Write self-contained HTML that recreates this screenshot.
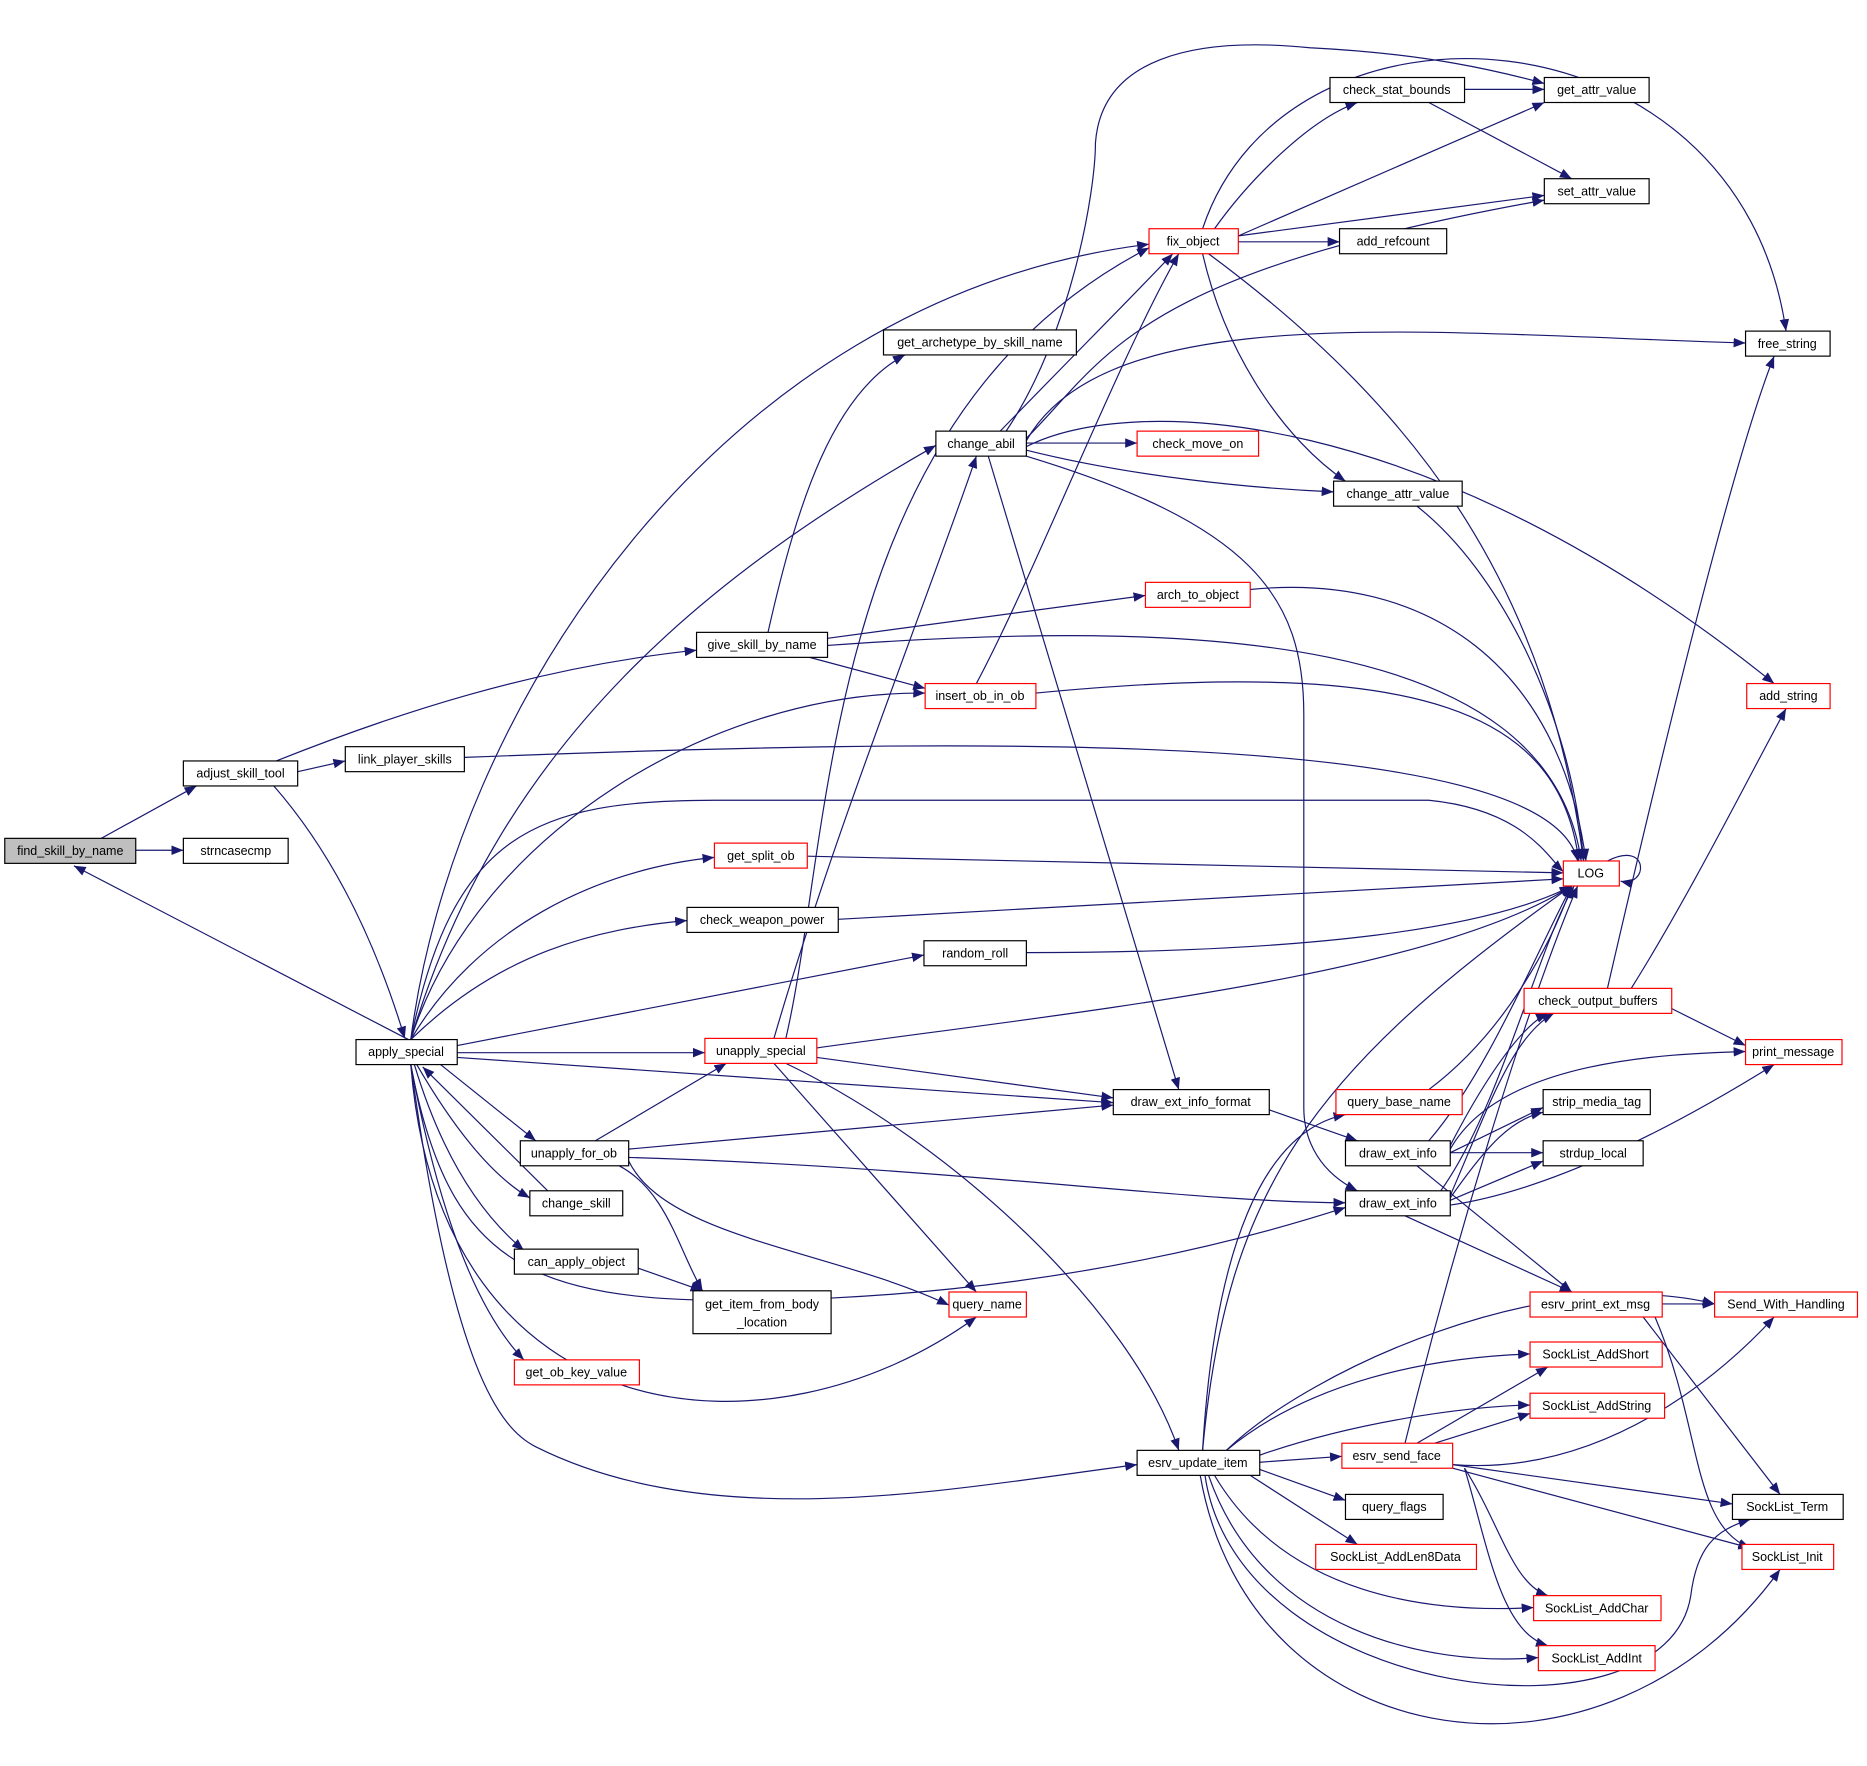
<!DOCTYPE html>
<html><head><meta charset="utf-8"><style>html,body{margin:0;padding:0;background:#fff}svg{display:block}</style></head>
<body>
<svg width="1867" height="1766" viewBox="0 0 1568 1483" xmlns="http://www.w3.org/2000/svg" font-family="Liberation Sans, sans-serif" font-size="10.5">
<defs><marker id="a" markerWidth="10" markerHeight="8" refX="10" refY="4" orient="auto" markerUnits="userSpaceOnUse"><path d="M0,0 L10,4 L0,8 z" fill="#191970"/></marker></defs>
<g fill="none" stroke="#191970" stroke-width="1" marker-end="url(#a)">
<path d="M114,714 L154,714"/>
<path d="M85,704 L165,660"/>
<path d="M343,873 L62,727"/>
<path d="M232,639 C330,600 450,560 585,546"/>
<path d="M250,648 L290,639"/>
<path d="M230,660 Q300,740 340,872"/>
<path d="M345,873 C380,600 600,250 965,205"/>
<path d="M345,873 C420,620 600,480 786,374"/>
<path d="M345,873 C400,700 600,580 777,582"/>
<path d="M345,873 C380,700 450,672 600,672 L1200,672 C1280,680 1300,720 1313,732"/>
<path d="M345,873 C400,780 500,730 600,720"/>
<path d="M345,873 C420,800 500,780 577,773"/>
<path d="M384,878 L776,802"/>
<path d="M384,884 L592,884"/>
<path d="M384,888 L935,926"/>
<path d="M370,894 L450,958"/>
<path d="M350,894 Q400,980 445,1006"/>
<path d="M348,894 Q380,1000 440,1050"/>
<path d="M345,894 Q380,1080 440,1142"/>
<path d="M345,894 C370,1210 650,1230 820,1106"/>
<path d="M345,894 C380,1080 460,1100 700,1090 C900,1080 1050,1040 1130,1014"/>
<path d="M345,894 C380,1150 420,1200 450,1215 C600,1290 800,1250 955,1230"/>
<path d="M460,1000 L355,896"/>
<path d="M645,531 C670,420 700,330 760,298"/>
<path d="M695,536 L962,500"/>
<path d="M695,542 C1000,520 1300,530 1328,723"/>
<path d="M680,552 L777,578"/>
<path d="M390,636 C800,620 1300,610 1325,723"/>
<path d="M820,574 C870,480 940,300 990,213"/>
<path d="M870,582 C1200,550 1310,600 1326,723"/>
<path d="M840,362 C900,300 950,250 985,213"/>
<path d="M845,362 C900,280 920,160 920,120 C925,50 1000,30 1100,40 C1200,45 1260,60 1297,70"/>
<path d="M862,368 C930,300 950,230 1297,168"/>
<path d="M862,370 C930,250 1200,280 1466,288"/>
<path d="M862,372 L955,372"/>
<path d="M862,378 C950,400 1050,410 1120,413"/>
<path d="M862,375 C950,330 1200,340 1490,574"/>
<path d="M830,383 L990,915"/>
<path d="M862,383 C1050,440 1095,500 1095,600 L1095,930 C1095,960 1110,985 1140,1000"/>
<path d="M1230,75 L1297,75"/>
<path d="M1200,86 L1320,150"/>
<path d="M1020,192 C1050,150 1100,100 1140,86"/>
<path d="M1040,198 L1297,86"/>
<path d="M1040,198 L1297,164"/>
<path d="M1040,203 L1125,203"/>
<path d="M1015,213 C1200,350 1300,500 1330,723"/>
<path d="M1010,213 C1030,300 1080,370 1130,404"/>
<path d="M1010,192 C1080,-20 1460,0 1500,278"/>
<path d="M660,872 C700,700 690,350 965,208"/>
<path d="M650,872 C700,700 780,500 820,383"/>
<path d="M1190,425 C1260,480 1320,600 1330,723"/>
<path d="M1050,495 C1200,480 1310,560 1332,723"/>
<path d="M1350,723 C1385,705 1385,745 1361,740"/>
<path d="M678,719 L1313,733"/>
<path d="M704,772 L1313,738"/>
<path d="M862,800 C1100,800 1250,780 1320,744"/>
<path d="M686,880 C900,850 1200,820 1320,744"/>
<path d="M686,888 L935,922"/>
<path d="M650,893 L820,1085"/>
<path d="M660,893 C800,960 950,1100 990,1218"/>
<path d="M500,958 L610,893"/>
<path d="M528,965 L935,928"/>
<path d="M528,972 C800,980 1000,1010 1130,1010"/>
<path d="M520,979 C560,1000 570,1050 590,1084"/>
<path d="M528,975 C560,1040 700,1050 797,1096"/>
<path d="M536,1065 L590,1084"/>
<path d="M1066,932 L1140,958"/>
<path d="M1200,958 C1250,900 1290,800 1320,744"/>
<path d="M1218,962 C1250,900 1280,860 1300,851"/>
<path d="M1218,965 C1260,890 1400,885 1466,883"/>
<path d="M1218,968 L1296,930"/>
<path d="M1218,968 L1296,968"/>
<path d="M1190,979 L1320,1085"/>
<path d="M1210,1000 C1260,930 1290,800 1322,744"/>
<path d="M1218,1004 C1250,930 1270,870 1305,851"/>
<path d="M1218,1006 C1250,960 1270,940 1296,934"/>
<path d="M1218,1008 L1296,975"/>
<path d="M1218,1012 C1300,1000 1400,950 1490,894"/>
<path d="M1180,1021 L1320,1085"/>
<path d="M1350,830 C1380,700 1450,400 1490,299"/>
<path d="M1370,830 C1420,750 1470,650 1500,595"/>
<path d="M1404,847 L1466,878"/>
<path d="M1200,915 C1260,870 1300,800 1320,744"/>
<path d="M1010,1218 C1020,1050 1060,950 1130,936"/>
<path d="M1010,1218 C1030,1000 1100,900 1320,744"/>
<path d="M1030,1218 C1100,1150 1300,1060 1440,1095"/>
<path d="M1030,1218 C1100,1160 1200,1140 1285,1137"/>
<path d="M1058,1222 C1150,1190 1250,1180 1285,1180"/>
<path d="M1058,1228 L1127,1223"/>
<path d="M1058,1234 L1130,1260"/>
<path d="M1050,1239 L1140,1297"/>
<path d="M1020,1239 C1080,1340 1200,1355 1288,1350"/>
<path d="M1015,1239 C1060,1370 1200,1400 1292,1392"/>
<path d="M1012,1239 C1040,1430 1400,1470 1420,1340 C1425,1300 1440,1285 1470,1276"/>
<path d="M1008,1239 C1050,1480 1350,1520 1495,1318"/>
<path d="M1180,1212 C1220,1050 1280,850 1325,744"/>
<path d="M1190,1212 L1300,1148"/>
<path d="M1205,1212 L1285,1187"/>
<path d="M1220,1230 C1350,1240 1450,1150 1490,1106"/>
<path d="M1220,1230 L1455,1263"/>
<path d="M1220,1233 L1470,1300"/>
<path d="M1230,1233 C1260,1280 1270,1330 1300,1340"/>
<path d="M1230,1233 C1250,1300 1260,1370 1300,1382"/>
<path d="M1396,1095 L1440,1095"/>
<path d="M1380,1106 L1495,1255"/>
<path d="M1390,1106 C1430,1200 1420,1280 1470,1300"/>
</g>
<g stroke-width="1" text-anchor="middle">
<g fill="#fff" stroke="#000">
<rect x="4" y="704" width="110" height="21" fill="#bfbfbf"/>
<rect x="154" y="704" width="88" height="21"/>
<rect x="154" y="639" width="96" height="21"/>
<rect x="290" y="627" width="100" height="21"/>
<rect x="299" y="873" width="85" height="21"/>
<rect x="585" y="531" width="110" height="21"/>
<rect x="742" y="277" width="162" height="21"/>
<rect x="786" y="362" width="76" height="21"/>
<rect x="1117" y="65" width="113" height="21"/>
<rect x="1297" y="65" width="88" height="21"/>
<rect x="1297" y="150" width="88" height="21"/>
<rect x="1125" y="192" width="90" height="21"/>
<rect x="1466" y="278" width="71" height="21"/>
<rect x="1120" y="404" width="108" height="21"/>
<rect x="577" y="762" width="127" height="21"/>
<rect x="776" y="790" width="86" height="21"/>
<rect x="935" y="915" width="131" height="21"/>
<rect x="1296" y="915" width="90" height="21"/>
<rect x="1130" y="958" width="88" height="21"/>
<rect x="1296" y="958" width="84" height="21"/>
<rect x="437" y="958" width="91" height="21"/>
<rect x="1130" y="1000" width="88" height="21"/>
<rect x="445" y="1000" width="78" height="21"/>
<rect x="432" y="1049" width="104" height="21"/>
<rect x="582" y="1084" width="116" height="36"/>
<rect x="955" y="1218" width="103" height="21"/>
<rect x="1130" y="1255" width="82" height="21"/>
<rect x="1455" y="1255" width="93" height="21"/>
</g>
<g fill="#fff" stroke="#ff0000">
<rect x="965" y="192" width="75" height="21"/>
<rect x="955" y="362" width="102" height="21"/>
<rect x="962" y="489" width="88" height="21"/>
<rect x="777" y="574" width="93" height="21"/>
<rect x="1467" y="574" width="70" height="21"/>
<rect x="1313" y="723" width="47" height="21"/>
<rect x="600" y="708" width="78" height="21"/>
<rect x="592" y="872" width="94" height="21"/>
<rect x="1280" y="830" width="124" height="21"/>
<rect x="1466" y="873" width="81" height="21"/>
<rect x="1122" y="915" width="106" height="21"/>
<rect x="797" y="1085" width="65" height="21"/>
<rect x="1285" y="1085" width="111" height="21"/>
<rect x="1440" y="1085" width="120" height="21"/>
<rect x="432" y="1142" width="105" height="21"/>
<rect x="1285" y="1127" width="111" height="21"/>
<rect x="1285" y="1170" width="113" height="21"/>
<rect x="1127" y="1212" width="93" height="21"/>
<rect x="1105" y="1297" width="135" height="21"/>
<rect x="1463" y="1297" width="77" height="21"/>
<rect x="1288" y="1340" width="107" height="21"/>
<rect x="1292" y="1382" width="98" height="21"/>
</g>
<g fill="#000">
<text x="59" y="718">find_skill_by_name</text>
<text x="198" y="718">strncasecmp</text>
<text x="202" y="653">adjust_skill_tool</text>
<text x="340" y="641">link_player_skills</text>
<text x="341" y="887">apply_special</text>
<text x="640" y="545">give_skill_by_name</text>
<text x="823" y="291">get_archetype_by_skill_name</text>
<text x="824" y="376">change_abil</text>
<text x="1173" y="79">check_stat_bounds</text>
<text x="1341" y="79">get_attr_value</text>
<text x="1341" y="164">set_attr_value</text>
<text x="1170" y="206">add_refcount</text>
<text x="1501" y="292">free_string</text>
<text x="1174" y="418">change_attr_value</text>
<text x="640" y="776">check_weapon_power</text>
<text x="819" y="804">random_roll</text>
<text x="1000" y="929">draw_ext_info_format</text>
<text x="1341" y="929">strip_media_tag</text>
<text x="1174" y="972">draw_ext_info</text>
<text x="1338" y="972">strdup_local</text>
<text x="482" y="972">unapply_for_ob</text>
<text x="1174" y="1014">draw_ext_info</text>
<text x="484" y="1014">change_skill</text>
<text x="484" y="1063">can_apply_object</text>
<text x="640" y="1099">get_item_from_body</text>
<text x="640" y="1114">_location</text>
<text x="1006" y="1232">esrv_update_item</text>
<text x="1171" y="1269">query_flags</text>
<text x="1501" y="1269">SockList_Term</text>
<text x="1002" y="206">fix_object</text>
<text x="1006" y="376">check_move_on</text>
<text x="1006" y="503">arch_to_object</text>
<text x="823" y="588">insert_ob_in_ob</text>
<text x="1502" y="588">add_string</text>
<text x="1336" y="737">LOG</text>
<text x="639" y="722">get_split_ob</text>
<text x="639" y="886">unapply_special</text>
<text x="1342" y="844">check_output_buffers</text>
<text x="1506" y="887">print_message</text>
<text x="1175" y="929">query_base_name</text>
<text x="829" y="1099">query_name</text>
<text x="1340" y="1099">esrv_print_ext_msg</text>
<text x="1500" y="1099">Send_With_Handling</text>
<text x="484" y="1156">get_ob_key_value</text>
<text x="1340" y="1141">SockList_AddShort</text>
<text x="1341" y="1184">SockList_AddString</text>
<text x="1173" y="1226">esrv_send_face</text>
<text x="1172" y="1311">SockList_AddLen8Data</text>
<text x="1501" y="1311">SockList_Init</text>
<text x="1341" y="1354">SockList_AddChar</text>
<text x="1341" y="1396">SockList_AddInt</text>
</g>
</g>
</svg>
</body></html>
